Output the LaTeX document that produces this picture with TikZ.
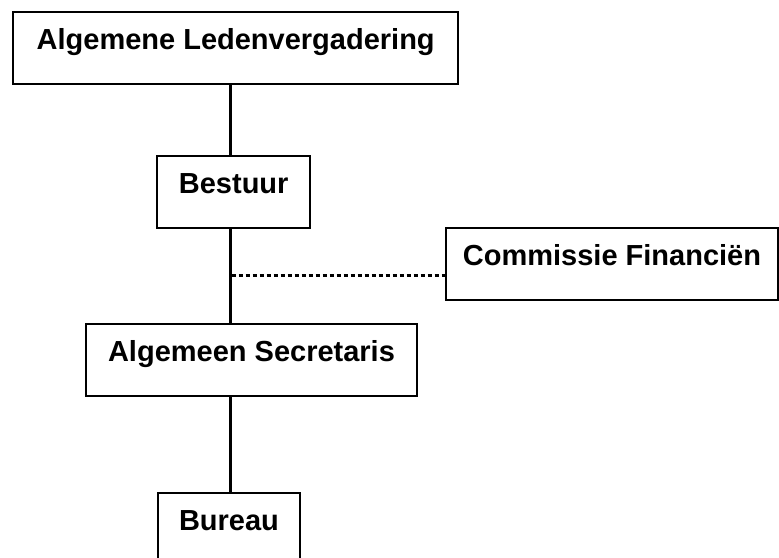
\documentclass[tikz,border=0pt]{standalone}
\usepackage{fontspec}
\setmainfont{Liberation Sans}
\begin{document}
\begin{tikzpicture}[x=1pt,y=-1pt,
  box/.style={draw, line width=2pt, inner sep=0pt, minimum height=72pt,
    text height=37.5pt, text depth=34.5pt,
    font=\fontsize{29}{34}\selectfont\bfseries, anchor=north},
  link/.style={line width=3pt},
  dotlink/.style={line width=3pt, dash pattern=on 4pt off 3pt}]
\useasboundingbox (0,0) rectangle (779,557);
\clip (0,0) rectangle (779,557);
\coordinate (spine) at (230,0);
\node[box, minimum width=444.7pt] (alv) at (235.7,11.3) {Algemene Ledenvergadering};
\node[box, minimum width=152.5pt] (bestuur) at (233.7,155) {Bestuur};
\node[box, minimum width=332pt] (comm) at (612,227.3) {Commissie Financiën};
\node[box, minimum width=331pt] (secr) at (251.5,323.3) {Algemeen Secretaris};
\node[box, minimum width=142pt] (bureau) at (229,491.7) {Bureau};
\draw[link] (alv.south -| spine) -- (bestuur.north -| spine);
\draw[link] (bestuur.south -| spine) -- (secr.north -| spine);
\draw[link] (secr.south -| spine) -- (bureau.north -| spine);
\coordinate (dstart) at (231.5,275);
\draw[dotlink] (dstart) -- (dstart -| comm.west);
\end{tikzpicture}
\end{document}
